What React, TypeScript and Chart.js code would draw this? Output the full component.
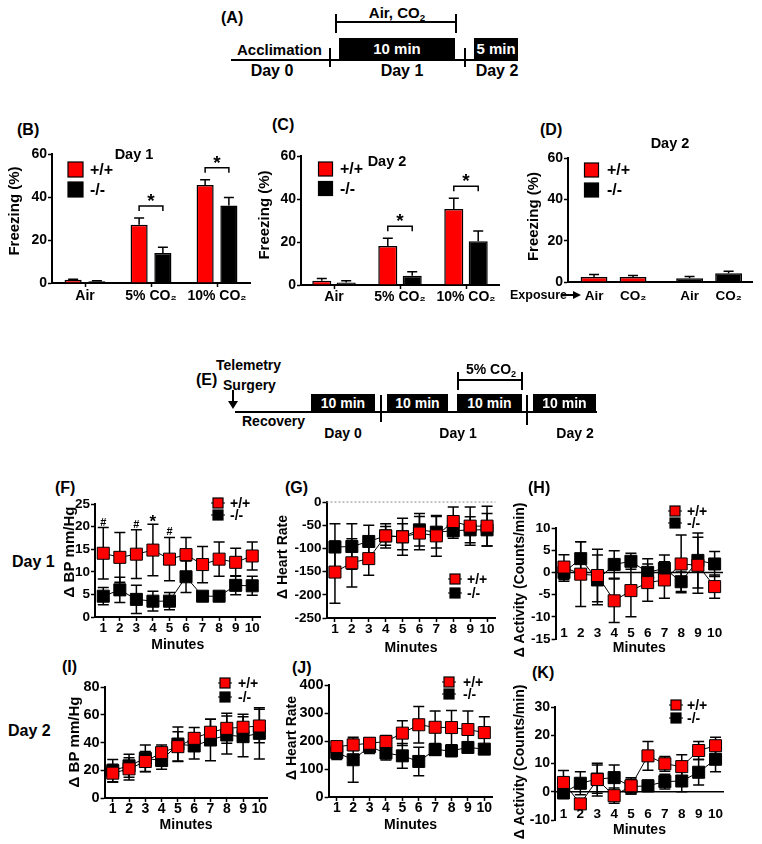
import React, { useEffect, useRef } from 'react';
import { Chart, registerables } from 'chart.js';

Chart.register(...registerables);

const FONT = "'Liberation Sans', Arial, 'DejaVu Sans', sans-serif";
Chart.defaults.font.family = FONT;
(Chart.defaults.font as any).weight = 'bold';
Chart.defaults.color = '#000';

const RED = '#ff0000';
const BLK = '#000000';

// ---------------- data ----------------
const GENOTYPES = ['+/+', '-/-'];
const GAS_CATS = ['Air', '5% CO₂', '10% CO₂'];
const FREEZE_TICKS = [0, 20, 40, 60];

// (B) Day 1 freezing
const B_WT = [1.5, 27.1, 45.6];
const B_WT_ERR = [0.3, 3.1, 2.4];
const B_KO = [0.8, 14.0, 36.1];
const B_KO_ERR = [0.3, 2.6, 3.7];
const B_SIG = ['', '*', '*'];

// (C) Day 2 freezing
const C_WT = [2.0, 18.1, 35.3];
const C_WT_ERR = [1.0, 3.6, 5.0];
const C_KO = [1.2, 4.3, 20.3];
const C_KO_ERR = [0.8, 1.9, 4.8];
const C_SIG = ['', '*', '*'];

// (D) Day 2, exposure groups
const D_CATS = ['Air', 'CO₂', 'Air', 'CO₂'];
const D_SLOTS = [1, 2, 3.45, 4.45];
const D_WT = [2.4, 2.4];
const D_WT_ERR = [1.2, 0.8];
const D_KO = [1.8, 4.2];
const D_KO_ERR = [0.9, 1.0];

const MINUTES = ['1', '2', '3', '4', '5', '6', '7', '8', '9', '10'];

// (F) Day 1 BP
const F_TICKS = [0, 5, 10, 15, 20, 25];
const F_WT = [14.1, 13.2, 13.9, 14.8, 12.8, 13.8, 11.6, 12.8, 12.1, 13.5];
const F_WT_ERR = [5.7, 5.5, 5.4, 5.7, 4.8, 3.8, 4.0, 3.8, 3.1, 3.1];
const F_KO = [4.6, 6.0, 3.9, 3.5, 3.5, 8.9, 4.6, 4.6, 7.0, 6.9];
const F_KO_ERR = [1.9, 2.8, 3.1, 2.2, 1.9, 3.5, 0.3, 0.3, 2.1, 2.1];
const F_SIG = ['#', '', '#', '*', '#', '', '', '', '', ''];

// (G) Day 1 heart rate
const G_TICKS = [-250, -200, -150, -100, -50, 0];
const G_WT = [-151, -131, -122, -73, -75, -67, -73, -42, -52, -52];
const G_WT_ERR = [67, 52, 36, 20, 28, 36, 44, 31, 41, 43];
const G_KO = [-97, -96, -85, -73, -75, -60, -65, -62, -60, -60];
const G_KO_ERR = [50, 49, 35, 26, 40, 35, 34, 16, 28, 35];

// (H) Day 1 activity
const H_TICKS = [-15, -10, -5, 0, 5, 10];
const H_WT = [1.2, -0.4, -0.7, -6.4, -4.1, -2.3, -1.7, 1.9, 1.6, -3.2];
const H_WT_ERR = [2.8, 7.3, 5.9, 4.9, 5.9, 4.2, 4.1, 6.5, 6.3, 2.6];
const H_KO = [0.0, 3.1, -1.7, 1.8, 2.5, 0.0, 0.9, -2.1, 2.7, 1.9];
const H_KO_ERR = [2.0, 3.8, 5.6, 3.1, 1.8, 3.1, 3.0, 2.2, 6.2, 2.8];

// (I) Day 2 BP
const I_TICKS = [0, 20, 40, 60, 80];
const I_WT = [17.9, 21.0, 26.3, 32.7, 37.0, 43.0, 47.4, 50.2, 51.0, 51.9];
const I_WT_ERR = [6.5, 8.0, 7.2, 5.5, 10.7, 7.8, 9.3, 10.8, 9.3, 12.0];
const I_KO = [19.8, 23.2, 28.6, 27.0, 38.9, 37.5, 41.8, 45.4, 44.2, 46.6];
const I_KO_ERR = [8.0, 8.3, 9.6, 6.2, 12.2, 9.4, 14.9, 13.7, 14.4, 18.5];

// (J) Day 2 heart rate
const J_TICKS = [0, 100, 200, 300, 400];
const J_WT = [180, 186, 192, 198, 228, 258, 249, 248, 241, 230];
const J_WT_ERR = [14, 20, 20, 22, 44, 65, 58, 61, 66, 57];
const J_KO = [159, 133, 180, 157, 147, 127, 169, 165, 177, 171];
const J_KO_ERR = [25, 80, 25, 25, 44, 51, 20, 20, 15, 12];

// (K) Day 2 activity
const K_TICKS = [-10, 0, 10, 20, 30];
const K_WT = [3.3, -4.3, 4.3, -1.4, 2.1, 12.7, 9.9, 8.9, 14.6, 16.3];
const K_WT_ERR = [4.2, 1.2, 5.8, 2.7, 2.9, 5.1, 2.6, 4.2, 3.2, 3.0];
const K_KO = [-0.4, 3.0, 4.5, 5.0, 1.8, 2.1, 3.6, 3.8, 6.9, 11.5];
const K_KO_ERR = [2.0, 4.1, 5.0, 4.5, 2.6, 2.0, 2.6, 3.8, 4.5, 4.4];

// ---------------- layout helpers ----------------
type Rect = { x: number; y: number; w: number; h: number };
type Plot = { l: number; t: number; r: number; b: number };
type Leg = { kind: 'bar' | 'line'; cx: number; cy: number[]; tx: number; size: number; fs: number };
type YTitle = { text: string; x: number; y: number; fs: number };

function layoutFor(rect: Rect, plot: Plot, xBottom: number) {
  return {
    padding: { left: 0, top: plot.t - rect.y, right: rect.x + rect.w - plot.r, bottom: rect.y + rect.h - xBottom },
    yWidth: plot.l - rect.x,
    xHeight: xBottom - plot.b,
  };
}

function axisStyle(fs: number, pad: number, drawTicks = true, border = true, showLabels = true) {
  return {
    border: { display: border, color: BLK, width: 2 },
    grid: { drawOnChartArea: false, drawTicks, tickLength: 4, tickColor: BLK, tickWidth: 1.5, color: BLK },
    ticks: { display: showLabels, font: { size: fs, weight: 'bold' }, padding: pad, color: BLK, maxRotation: 0, autoSkip: false },
  };
}

function yAxis(ticks: number[], fs: number, width: number) {
  const a = axisStyle(fs, 1);
  return {
    ...a,
    min: ticks[0],
    max: ticks[ticks.length - 1],
    afterBuildTicks: (s: any) => {
      s.ticks = ticks.map((v) => ({ value: v }));
    },
    afterFit: (s: any) => {
      s.width = width;
    },
  };
}

function drawYTitle(ctx: CanvasRenderingContext2D, rect: Rect, t: YTitle) {
  ctx.save();
  ctx.translate(t.x - rect.x, t.y - rect.y);
  ctx.rotate(-Math.PI / 2);
  ctx.fillStyle = BLK;
  ctx.font = `bold ${t.fs}px ${FONT}`;
  ctx.textAlign = 'center';
  ctx.textBaseline = 'middle';
  ctx.fillText(t.text, 0, 0);
  ctx.restore();
}

function drawLegend(ctx: CanvasRenderingContext2D, chart: any, rect: Rect, leg: Leg) {
  chart.data.datasets.forEach((ds: any, k: number) => {
    const cx = leg.cx - rect.x;
    const cy = leg.cy[k] - rect.y;
    const s = leg.size;
    ctx.save();
    if (leg.kind === 'line') {
      ctx.strokeStyle = BLK;
      ctx.lineWidth = 1;
      ctx.beginPath();
      ctx.moveTo(cx - 7, cy);
      ctx.lineTo(cx + 7, cy);
      ctx.stroke();
    }
    ctx.fillStyle = ds.pointBackgroundColor || ds.backgroundColor;
    ctx.fillRect(cx - s / 2, cy - s / 2, s, s);
    ctx.strokeStyle = BLK;
    ctx.lineWidth = 1.2;
    ctx.strokeRect(cx - s / 2, cy - s / 2, s, s);
    ctx.fillStyle = BLK;
    ctx.font = `bold ${leg.fs}px ${FONT}`;
    ctx.textAlign = 'left';
    ctx.textBaseline = 'middle';
    ctx.fillText(ds.label, leg.tx - rect.x, cy + 1);
    ctx.restore();
  });
}

const valOf = (d: any) => (typeof d === 'number' ? d : d.y);

// ---------------- bar charts ----------------
type BarSpec = {
  rect: Rect;
  plot: Plot;
  yTitle: YTitle;
  tickFs: number;
  xFs: number;
  xPad: number;
  xTicks: boolean;
  errs: number[][];
  sig?: string[];
  legend: Leg;
  datasets: any[];
  labels?: string[];
  linearX?: { min: number; max: number; slots: number[]; names: string[] };
};

function barConfig(o: BarSpec) {
  const L = layoutFor(o.rect, o.plot, o.rect.y + o.rect.h);
  const ax: any = axisStyle(o.xFs, o.xPad, o.xTicks);
  let x: any = {
    ...ax,
    offset: true,
    grid: { ...ax.grid, offset: false },
    afterFit: (s: any) => {
      s.height = L.xHeight;
    },
  };
  if (o.linearX) {
    const lx = o.linearX;
    x = {
      ...x,
      type: 'linear',
      offset: false,
      min: lx.min,
      max: lx.max,
      afterBuildTicks: (s: any) => {
        s.ticks = lx.slots.map((v) => ({ value: v }));
      },
      ticks: { ...ax.ticks, callback: (_v: any, i: number) => lx.names[i] },
    };
  }
  const plugin = {
    id: 'barExtras',
    afterDatasetsDraw(chart: any) {
      const ctx = chart.ctx;
      const ys = chart.scales.y;
      ctx.save();
      ctx.strokeStyle = BLK;
      ctx.lineWidth = 1.5;
      chart.data.datasets.forEach((ds: any, i: number) => {
        const meta = chart.getDatasetMeta(i);
        ds.data.forEach((d: any, j: number) => {
          const el = meta.data[j];
          const v = valOf(d);
          const yTop = ys.getPixelForValue(v + o.errs[i][j]);
          ctx.beginPath();
          ctx.moveTo(el.x, el.y);
          ctx.lineTo(el.x, yTop);
          ctx.moveTo(el.x - 5, yTop);
          ctx.lineTo(el.x + 5, yTop);
          ctx.stroke();
        });
      });
      ctx.restore();
    },
    afterDraw(chart: any) {
      const ctx = chart.ctx;
      const ys = chart.scales.y;
      if (o.sig) {
        const m0 = chart.getDatasetMeta(0);
        const m1 = chart.getDatasetMeta(1);
        o.sig.forEach((s, j) => {
          if (!s) return;
          const d0 = chart.data.datasets[0].data[j];
          const d1 = chart.data.datasets[1].data[j];
          const top = Math.max(valOf(d0) + o.errs[0][j], valOf(d1) + o.errs[1][j]);
          const yb = ys.getPixelForValue(top) - 12;
          const x0 = m0.data[j].x;
          const x1 = m1.data[j].x;
          ctx.save();
          ctx.strokeStyle = BLK;
          ctx.lineWidth = 1.5;
          ctx.beginPath();
          ctx.moveTo(x0, yb + 5);
          ctx.lineTo(x0, yb);
          ctx.lineTo(x1, yb);
          ctx.lineTo(x1, yb + 5);
          ctx.stroke();
          ctx.fillStyle = BLK;
          ctx.font = `bold 19px ${FONT}`;
          ctx.textAlign = 'center';
          ctx.textBaseline = 'alphabetic';
          ctx.fillText(s, (x0 + x1) / 2, yb + 1);
          ctx.restore();
        });
      }
      drawYTitle(ctx, o.rect, o.yTitle);
      drawLegend(ctx, chart, o.rect, o.legend);
    },
  };
  return {
    type: 'bar',
    data: o.linearX ? { datasets: o.datasets } : { labels: o.labels, datasets: o.datasets },
    options: {
      responsive: false,
      animation: false,
      events: [],
      layout: { padding: L.padding },
      plugins: { legend: { display: false }, tooltip: { enabled: false } },
      scales: {
        x,
        y: yAxis(FREEZE_TICKS, o.tickFs, L.yWidth),
      },
    },
    plugins: [plugin],
  };
}

function barSets(wt: any[], ko: any[], catPct: number, barPct: number, extra: any = {}) {
  return [
    { label: GENOTYPES[0], data: wt, backgroundColor: RED, borderColor: BLK, borderWidth: 1.5, categoryPercentage: catPct, barPercentage: barPct, ...extra },
    { label: GENOTYPES[1], data: ko, backgroundColor: BLK, borderColor: BLK, borderWidth: 1.5, categoryPercentage: catPct, barPercentage: barPct, ...extra },
  ];
}

const B_SPEC: BarSpec = {
  rect: { x: 0, y: 140, w: 255, h: 165 },
  plot: { l: 52, t: 154, r: 250, b: 283 },
  yTitle: { text: 'Freezing (%)', x: 14.5, y: 211, fs: 15 },
  tickFs: 14,
  xFs: 14,
  xPad: 1,
  xTicks: true,
  errs: [B_WT_ERR, B_KO_ERR],
  sig: B_SIG,
  legend: { kind: 'bar', cx: 75.5, cy: [169.5, 189.5], tx: 90, size: 15, fs: 16 },
  labels: GAS_CATS,
  datasets: barSets(B_WT, B_KO, 0.72, 0.72),
};

const C_SPEC: BarSpec = {
  rect: { x: 252, y: 140, w: 255, h: 165 },
  plot: { l: 301, t: 156, r: 499, b: 285 },
  yTitle: { text: 'Freezing (%)', x: 265, y: 215, fs: 15 },
  tickFs: 14,
  xFs: 14,
  xPad: 0,
  xTicks: true,
  errs: [C_WT_ERR, C_KO_ERR],
  sig: C_SIG,
  legend: { kind: 'bar', cx: 325.5, cy: [169, 188.5], tx: 340, size: 14, fs: 16 },
  labels: GAS_CATS,
  datasets: barSets(C_WT, C_KO, 0.74, 0.78),
};

const D_SPEC: BarSpec = {
  rect: { x: 515, y: 140, w: 247, h: 165 },
  plot: { l: 568, t: 158, r: 752, b: 282 },
  yTitle: { text: 'Freezing (%)', x: 533.5, y: 216.5, fs: 15 },
  tickFs: 14,
  xFs: 13.5,
  xPad: 6,
  xTicks: false,
  errs: [D_WT_ERR, D_KO_ERR],
  legend: { kind: 'bar', cx: 591.5, cy: [170, 190], tx: 607, size: 14, fs: 16 },
  linearX: { min: 0.333, max: 5.05, slots: D_SLOTS, names: D_CATS },
  datasets: barSets(
    D_WT.map((v, i) => ({ x: D_SLOTS[i], y: v })),
    D_KO.map((v, i) => ({ x: D_SLOTS[i + 2], y: v })),
    0.8,
    0.86,
    { grouped: false }
  ),
};

// ---------------- line charts ----------------
type LineSpec = {
  rect: Rect;
  plot: Plot;
  yTitle: YTitle;
  xTitleY: number;
  ticks: number[];
  tickFs: number;
  xFs: number;
  xPad: number;
  xAxisLine: boolean;
  innerLabelY?: number;
  wt: number[];
  wtErr: number[];
  ko: number[];
  koErr: number[];
  legend: Leg;
  zero?: 'dot' | 'solid';
  sig?: string[];
};

function lineConfig(o: LineSpec) {
  const L = layoutFor(o.rect, o.plot, o.xTitleY + 8.4);
  const ax: any = axisStyle(o.xFs, o.xPad, o.xAxisLine, o.xAxisLine, o.innerLabelY === undefined);
  const errs = [o.wtErr, o.koErr];
  const plugin = {
    id: 'lineExtras',
    beforeDatasetsDraw(chart: any) {
      const ctx = chart.ctx;
      const a = chart.chartArea;
      const ys = chart.scales.y;
      ctx.save();
      if (o.zero) {
        const y0 = ys.getPixelForValue(0);
        ctx.beginPath();
        if (o.zero === 'dot') {
          ctx.strokeStyle = '#8a8a8a';
          ctx.lineWidth = 1;
          ctx.setLineDash([2, 2]);
        } else {
          ctx.strokeStyle = BLK;
          ctx.lineWidth = 1.5;
        }
        ctx.moveTo(a.left, y0);
        ctx.lineTo(a.right, y0);
        ctx.stroke();
        ctx.setLineDash([]);
      }
      ctx.strokeStyle = BLK;
      ctx.lineWidth = 1.5;
      chart.data.datasets.forEach((ds: any, i: number) => {
        const meta = chart.getDatasetMeta(i);
        ds.data.forEach((v: number, j: number) => {
          const x = meta.data[j].x;
          const e = errs[i][j];
          const y1 = ys.getPixelForValue(v + e);
          const y2 = ys.getPixelForValue(v - e);
          ctx.beginPath();
          ctx.moveTo(x, y1);
          ctx.lineTo(x, y2);
          ctx.moveTo(x - 5.5, y1);
          ctx.lineTo(x + 5.5, y1);
          ctx.moveTo(x - 5.5, y2);
          ctx.lineTo(x + 5.5, y2);
          ctx.stroke();
        });
      });
      ctx.restore();
    },
    afterDraw(chart: any) {
      const ctx = chart.ctx;
      const ys = chart.scales.y;
      const xs = chart.scales.x;
      if (o.innerLabelY !== undefined) {
        ctx.save();
        ctx.fillStyle = BLK;
        ctx.font = `bold ${o.xFs}px ${FONT}`;
        ctx.textAlign = 'center';
        ctx.textBaseline = 'middle';
        chart.data.labels.forEach((lab: string, i: number) => {
          ctx.fillText(lab, xs.getPixelForTick(i), o.innerLabelY! - o.rect.y);
        });
        ctx.restore();
      }
      if (o.sig) {
        const meta = chart.getDatasetMeta(0);
        o.sig.forEach((s, j) => {
          if (!s) return;
          const top = Math.max(o.wt[j] + o.wtErr[j], o.ko[j] + o.koErr[j]);
          const yc = ys.getPixelForValue(top);
          ctx.save();
          ctx.fillStyle = BLK;
          ctx.textAlign = 'center';
          ctx.textBaseline = 'alphabetic';
          if (s === '*') {
            ctx.font = `bold 17px ${FONT}`;
            ctx.fillText(s, meta.data[j].x, yc + 3);
          } else {
            ctx.font = `bold 11px ${FONT}`;
            ctx.fillText(s, meta.data[j].x, yc - 2);
          }
          ctx.restore();
        });
      }
      drawYTitle(ctx, o.rect, o.yTitle);
      drawLegend(ctx, chart, o.rect, o.legend);
    },
  };
  const ds = (label: string, data: number[], color: string) => ({
    label,
    data,
    borderColor: BLK,
    borderWidth: 1,
    pointStyle: 'rect',
    pointRadius: 8.5,
    pointBackgroundColor: color,
    pointBorderColor: BLK,
    pointBorderWidth: 1,
    tension: 0,
    fill: false,
  });
  return {
    type: 'line',
    data: {
      labels: MINUTES,
      datasets: [ds(GENOTYPES[0], o.wt, RED), ds(GENOTYPES[1], o.ko, BLK)],
    },
    options: {
      responsive: false,
      animation: false,
      events: [],
      layout: { padding: L.padding },
      plugins: { legend: { display: false }, tooltip: { enabled: false } },
      scales: {
        x: {
          ...ax,
          offset: true,
          grid: { ...ax.grid, display: o.xAxisLine, offset: false },
          title: { display: true, text: 'Minutes', color: BLK, font: { size: 14, weight: 'bold' }, padding: 0 },
          afterFit: (s: any) => {
            s.height = L.xHeight;
          },
        },
        y: yAxis(o.ticks, o.tickFs, L.yWidth),
      },
    },
    plugins: [plugin],
  };
}

const F_SPEC: LineSpec = {
  rect: { x: 40, y: 490, w: 230, h: 164 },
  plot: { l: 95, t: 504, r: 265, b: 617 },
  yTitle: { text: 'Δ BP mm/Hg', x: 70, y: 552, fs: 15 },
  xTitleY: 645.5,
  ticks: F_TICKS,
  tickFs: 13.5,
  xFs: 13.5,
  xPad: -1,
  xAxisLine: true,
  wt: F_WT,
  wtErr: F_WT_ERR,
  ko: F_KO,
  koErr: F_KO_ERR,
  legend: { kind: 'line', cx: 218, cy: [503, 515], tx: 230, size: 10, fs: 14 },
  sig: F_SIG,
};

const G_SPEC: LineSpec = {
  rect: { x: 265, y: 490, w: 240, h: 166 },
  plot: { l: 326.5, t: 502, r: 500, b: 618 },
  yTitle: { text: 'Δ Heart Rate', x: 283, y: 557, fs: 14 },
  xTitleY: 648,
  ticks: G_TICKS,
  tickFs: 13.5,
  xFs: 13.5,
  xPad: -1,
  xAxisLine: true,
  wt: G_WT,
  wtErr: G_WT_ERR,
  ko: G_KO,
  koErr: G_KO_ERR,
  legend: { kind: 'line', cx: 455, cy: [579, 593], tx: 467, size: 10, fs: 14 },
  zero: 'dot',
};

const H_SPEC: LineSpec = {
  rect: { x: 505, y: 490, w: 257, h: 170 },
  plot: { l: 555.6, t: 528, r: 723, b: 639 },
  yTitle: { text: 'Δ Activity (Counts/min)', x: 520, y: 580, fs: 14 },
  xTitleY: 648,
  ticks: H_TICKS,
  tickFs: 13.5,
  xFs: 13.5,
  xPad: 0,
  xAxisLine: false,
  innerLabelY: 633,
  wt: H_WT,
  wtErr: H_WT_ERR,
  ko: H_KO,
  koErr: H_KO_ERR,
  legend: { kind: 'line', cx: 675, cy: [511, 523], tx: 687, size: 10, fs: 14 },
  zero: 'solid',
};

const I_SPEC: LineSpec = {
  rect: { x: 55, y: 672, w: 222, h: 162 },
  plot: { l: 104.6, t: 687, r: 272.4, b: 798 },
  yTitle: { text: 'Δ BP mm/Hg', x: 75, y: 742, fs: 15 },
  xTitleY: 825,
  ticks: I_TICKS,
  tickFs: 14.5,
  xFs: 14,
  xPad: -1,
  xAxisLine: true,
  wt: I_WT,
  wtErr: I_WT_ERR,
  ko: I_KO,
  koErr: I_KO_ERR,
  legend: { kind: 'line', cx: 225, cy: [683, 697], tx: 238, size: 10, fs: 14 },
};

const J_SPEC: LineSpec = {
  rect: { x: 275, y: 670, w: 227, h: 164 },
  plot: { l: 328.6, t: 685, r: 496.4, b: 797 },
  yTitle: { text: 'Δ Heart Rate', x: 292, y: 738, fs: 14 },
  xTitleY: 825,
  ticks: J_TICKS,
  tickFs: 14.5,
  xFs: 14,
  xPad: -1,
  xAxisLine: true,
  wt: J_WT,
  wtErr: J_WT_ERR,
  ko: J_KO,
  koErr: J_KO_ERR,
  legend: { kind: 'line', cx: 449, cy: [682, 694], tx: 463, size: 10, fs: 14 },
};

const K_SPEC: LineSpec = {
  rect: { x: 505, y: 670, w: 257, h: 174 },
  plot: { l: 555, t: 707, r: 724, b: 820 },
  yTitle: { text: 'Δ Activity (Counts/min)', x: 520, y: 762, fs: 14 },
  xTitleY: 830,
  ticks: K_TICKS,
  tickFs: 14,
  xFs: 13.5,
  xPad: 0,
  xAxisLine: false,
  innerLabelY: 814,
  wt: K_WT,
  wtErr: K_WT_ERR,
  ko: K_KO,
  koErr: K_KO_ERR,
  legend: { kind: 'line', cx: 676, cy: [705, 718], tx: 687, size: 10, fs: 14 },
  zero: 'solid',
};

// ---------------- components ----------------
function ChartBox({ rect, make }: { rect: Rect; make: () => any }) {
  const ref = useRef<HTMLCanvasElement>(null);
  useEffect(() => {
    const chart = new Chart(ref.current as HTMLCanvasElement, make());
    return () => chart.destroy();
  }, []);
  return (
    <canvas
      ref={ref}
      width={rect.w}
      height={rect.h}
      style={{ position: 'absolute', left: rect.x, top: rect.y, width: rect.w, height: rect.h }}
    />
  );
}

function Txt({ x, y, s, c = 'center', color = '#000', children }: any) {
  return (
    <div
      style={{
        position: 'absolute',
        left: x,
        top: y,
        transform: c === 'center' ? 'translate(-50%,-50%)' : 'translate(0,-50%)',
        fontFamily: FONT,
        fontWeight: 'bold',
        fontSize: s,
        lineHeight: 1,
        whiteSpace: 'nowrap',
        color,
      }}
    >
      {children}
    </div>
  );
}

function Bx({ x, y, w, h }: any) {
  return <div style={{ position: 'absolute', left: x, top: y, width: w, height: h, background: '#000' }} />;
}

const Sub2 = () => <span style={{ fontSize: '0.65em', position: 'relative', top: '0.3em' }}>2</span>;

export default function App() {
  return (
    <div style={{ position: 'absolute', left: 0, top: 0, width: 762, height: 844, background: '#fff', overflow: 'hidden' }}>
      {/* (A) timeline */}
      <Txt x={221} y={18} s={16} c="left">(A)</Txt>
      <Txt x={397} y={12} s={15}>
        Air, CO<Sub2 />
      </Txt>
      <Bx x={336} y={21} w={121} h={2} />
      <Bx x={335} y={14} w={2} h={19} />
      <Bx x={455} y={14} w={2} h={19} />
      <Txt x={237} y={49} s={15} c="left">Acclimation</Txt>
      <Bx x={339} y={38} w={116} h={21} />
      <Txt x={397} y={48} s={15} color="#fff">10 min</Txt>
      <Bx x={474} y={38} w={44} h={21} />
      <Txt x={496} y={48} s={15} color="#fff">5 min</Txt>
      <Bx x={231} y={58.5} w={287} h={2} />
      <Bx x={329} y={48} w={2} h={19} />
      <Bx x={464} y={48} w={2} h={19} />
      <Txt x={272} y={71} s={16}>Day 0</Txt>
      <Txt x={402} y={71} s={16}>Day 1</Txt>
      <Txt x={497} y={71} s={16}>Day 2</Txt>

      {/* bar panels */}
      <Txt x={17} y={130} s={16} c="left">(B)</Txt>
      <Txt x={272} y={125} s={16} c="left">(C)</Txt>
      <Txt x={540} y={130} s={16} c="left">(D)</Txt>
      <ChartBox rect={B_SPEC.rect} make={() => barConfig(B_SPEC)} />
      <ChartBox rect={C_SPEC.rect} make={() => barConfig(C_SPEC)} />
      <ChartBox rect={D_SPEC.rect} make={() => barConfig(D_SPEC)} />
      <Txt x={134} y={154} s={14.5}>Day 1</Txt>
      <Txt x={387} y={161} s={14.5}>Day 2</Txt>
      <Txt x={670} y={142.5} s={14.5}>Day 2</Txt>
      <Txt x={510} y={295} s={12.5} c="left">Exposure</Txt>
      <Bx x={561} y={294} w={13} h={2} />
      <div
        style={{
          position: 'absolute',
          left: 573,
          top: 290.5,
          width: 0,
          height: 0,
          borderTop: '4.5px solid transparent',
          borderBottom: '4.5px solid transparent',
          borderLeft: '8px solid #000',
        }}
      />

      {/* (E) timeline */}
      <Txt x={196} y={380} s={16} c="left">(E)</Txt>
      <Txt x={216} y={365} s={14} c="left">Telemetry</Txt>
      <Txt x={223} y={385} s={14} c="left">Surgery</Txt>
      <Bx x={232} y={390} w={2} h={12} />
      <div
        style={{
          position: 'absolute',
          left: 228,
          top: 401,
          width: 0,
          height: 0,
          borderLeft: '5px solid transparent',
          borderRight: '5px solid transparent',
          borderTop: '8px solid #000',
        }}
      />
      <Bx x={235} y={411} w={362} h={2} />
      <Txt x={242} y={421} s={14} c="left">Recovery</Txt>
      <Bx x={311} y={394} w={64} h={18} />
      <Txt x={343} y={403} s={14} color="#fff">10 min</Txt>
      <Bx x={387} y={394} w={61} h={18} />
      <Txt x={417.5} y={403} s={14} color="#fff">10 min</Txt>
      <Bx x={457} y={394} w={65} h={18} />
      <Txt x={489.5} y={403} s={14} color="#fff">10 min</Txt>
      <Bx x={533} y={394} w={63} h={18} />
      <Txt x={564.5} y={403} s={14} color="#fff">10 min</Txt>
      <Bx x={380} y={395} w={2} h={27} />
      <Bx x={526} y={395} w={2} h={30} />
      <Bx x={458} y={379} w={64} h={2} />
      <Bx x={457} y={372} w={2} h={18} />
      <Bx x={521} y={372} w={2} h={18} />
      <Txt x={491} y={369} s={14}>
        5% CO<Sub2 />
      </Txt>
      <Txt x={343} y={433} s={14}>Day 0</Txt>
      <Txt x={458} y={433} s={14}>Day 1</Txt>
      <Txt x={575} y={433} s={14}>Day 2</Txt>

      {/* telemetry panels */}
      <Txt x={12} y={562} s={16} c="left">Day 1</Txt>
      <Txt x={8} y={731} s={16} c="left">Day 2</Txt>
      <Txt x={55} y={488} s={16} c="left">(F)</Txt>
      <Txt x={285} y={488} s={16} c="left">(G)</Txt>
      <Txt x={528} y={488} s={16} c="left">(H)</Txt>
      <Txt x={62} y={667} s={16} c="left">(I)</Txt>
      <Txt x={292} y={668} s={16} c="left">(J)</Txt>
      <Txt x={532} y={673} s={16} c="left">(K)</Txt>
      <ChartBox rect={F_SPEC.rect} make={() => lineConfig(F_SPEC)} />
      <ChartBox rect={G_SPEC.rect} make={() => lineConfig(G_SPEC)} />
      <ChartBox rect={H_SPEC.rect} make={() => lineConfig(H_SPEC)} />
      <ChartBox rect={I_SPEC.rect} make={() => lineConfig(I_SPEC)} />
      <ChartBox rect={J_SPEC.rect} make={() => lineConfig(J_SPEC)} />
      <ChartBox rect={K_SPEC.rect} make={() => lineConfig(K_SPEC)} />
    </div>
  );
}
